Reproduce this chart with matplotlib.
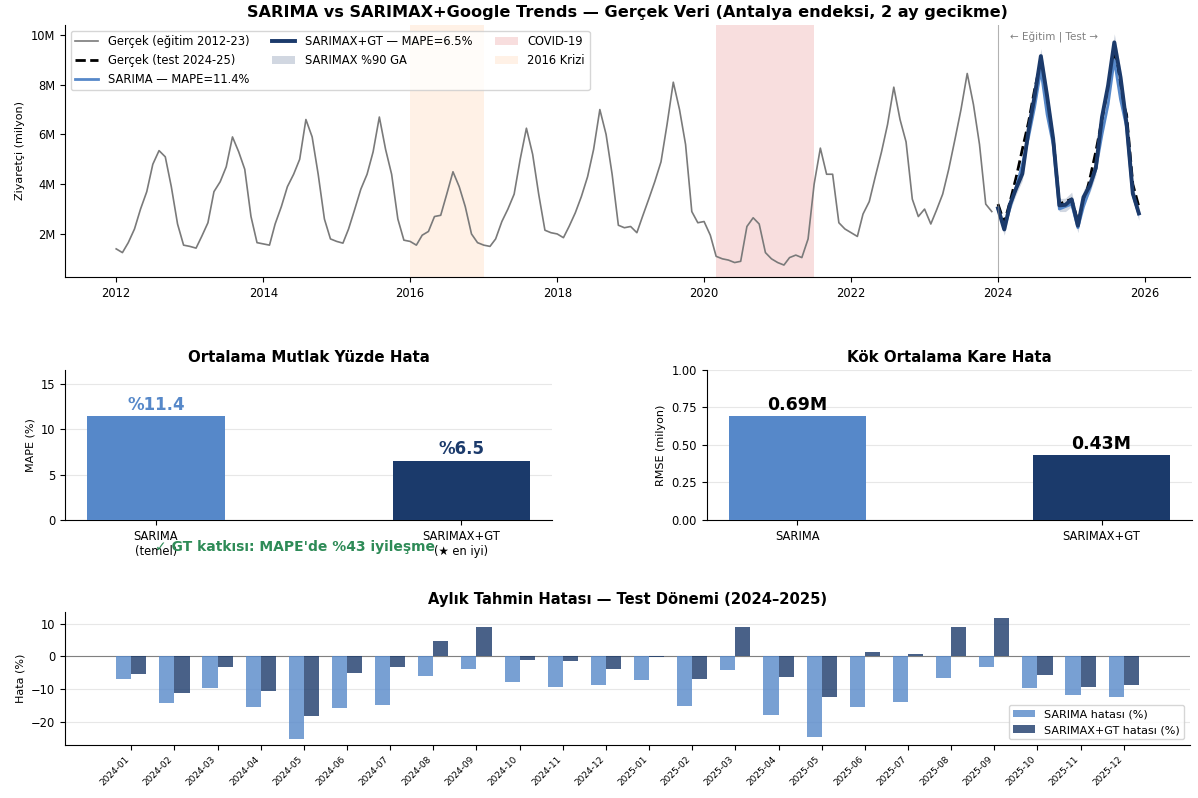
import numpy as np
import pandas as pd
import matplotlib
matplotlib.use("Agg")
import matplotlib.pyplot as plt
import matplotlib.dates as mdates
from matplotlib.ticker import FuncFormatter

# === VERİ (milyon ziyaretçi) ===
egitim_2012 = [1.4, 1.25, 1.65, 2.2, 3.0, 3.7, 4.8, 5.35, 5.1, 3.9, 2.4, 1.55]
egitim_2013 = [1.5, 1.43, 1.9, 2.45, 3.7, 4.1, 4.7, 5.9, 5.3, 4.6, 2.7, 1.65]
egitim_2014 = [1.6, 1.55, 2.4, 3.1, 3.9, 4.4, 5.0, 6.6, 5.9, 4.4, 2.6, 1.8]
egitim_2015 = [1.7, 1.63, 2.2, 3.0, 3.8, 4.4, 5.3, 6.7, 5.4, 4.4, 2.6, 1.75]
egitim_2016 = [1.7, 1.55, 1.95, 2.1, 2.7, 2.75, 3.6, 4.5, 3.9, 3.1, 2.0, 1.65]
egitim_2017 = [1.55, 1.5, 1.8, 2.5, 3.0, 3.6, 5.0, 6.25, 5.2, 3.6, 2.15, 2.05]
egitim_2018 = [2.0, 1.85, 2.3, 2.85, 3.5, 4.3, 5.4, 7.0, 6.0, 4.4, 2.35, 2.25]
egitim_2019 = [2.3, 2.05, 2.7, 3.4, 4.1, 4.9, 6.4, 8.1, 7.0, 5.6, 2.9, 2.45]
egitim_2020 = [2.5, 1.95, 1.1, 1.0, 0.95, 0.85, 0.9, 2.3, 2.65, 2.4, 1.25, 1.0]
egitim_2021 = [0.85, 0.75, 1.05, 1.15, 1.05, 1.8, 4.0, 5.45, 4.4, 4.4, 2.45, 2.2]
egitim_2022 = [2.05, 1.9, 2.8, 3.3, 4.3, 5.3, 6.4, 7.9, 6.6, 5.7, 3.4, 2.7]
egitim_2023 = [3.0, 2.4, 2.95, 3.6, 4.6, 5.8, 7.0, 8.45, 7.2, 5.6, 3.2, 2.9]

test_gercek = [3.2, 2.45, 3.3, 4.3, 5.4, 6.5, 7.8, 8.95, 7.0, 5.9, 3.2, 3.3,
               3.4, 2.5, 3.2, 4.2, 5.3, 6.6, 7.9, 9.45, 7.6, 6.8, 4.0, 3.1]
sarima_tahmin = [3.0, 2.25, 3.05, 3.9, 4.8, 5.9, 7.1, 8.6, 6.8, 5.6, 3.0, 3.1,
                 3.2, 2.25, 3.1, 3.8, 4.6, 6.0, 7.2, 9.0, 7.4, 6.3, 3.6, 2.8]
sarimax_tahmin = [3.03, 2.18, 3.20, 3.85, 4.42, 6.18, 7.54, 9.15, 7.55, 5.83, 3.15, 3.17,
                  3.39, 2.33, 3.48, 3.94, 4.65, 6.70, 7.96, 9.70, 8.30, 6.42, 3.63, 2.83]
ga_alt = [2.80, 1.95, 2.95, 3.60, 4.15, 5.90, 7.25, 8.85, 7.25, 5.55, 2.90, 2.90,
          3.10, 2.05, 3.20, 3.65, 4.35, 6.40, 7.65, 9.35, 7.95, 6.10, 3.35, 2.55]
ga_ust = [3.28, 2.42, 3.46, 4.12, 4.70, 6.48, 7.84, 9.45, 7.86, 6.12, 3.42, 3.44,
          3.68, 2.60, 3.76, 4.24, 4.96, 7.00, 8.28, 10.05, 8.65, 6.74, 3.92, 3.12]

modeller = ["SARIMA", "SARIMAX+GT"]
mape = [11.4, 6.5]
rmse = [0.69, 0.43]

sarima_hata = [-6.9, -14.1, -9.7, -15.5, -25.1, -15.7, -14.9, -5.9, -3.7, -7.7, -9.2, -8.6,
               -7.3, -15.0, -4.1, -17.9, -24.5, -15.3, -14.0, -6.6, -3.3, -9.7, -11.7, -12.2]
sarimax_hata = [-5.4, -11.0, -3.1, -10.4, -18.2, -4.9, -3.3, 4.8, 8.9, -1.2, -1.5, -3.85,
                -0.3, -6.9, 8.9, -6.1, -12.2, 1.5, 0.8, 9.0, 11.7, -5.6, -9.2, -8.7]

# === RENKLER ===
C_SARIMA = "#5688C9"
C_GT = "#1B3A6B"

egitim = (egitim_2012 + egitim_2013 + egitim_2014 + egitim_2015 + egitim_2016 + egitim_2017
          + egitim_2018 + egitim_2019 + egitim_2020 + egitim_2021 + egitim_2022 + egitim_2023)
tarih_egitim = pd.date_range("2012-01-01", periods=len(egitim), freq="MS")
tarih_test = pd.date_range("2024-01-01", periods=len(test_gercek), freq="MS")
ay_etiket = [d.strftime("%Y-%m") for d in tarih_test]

fig = plt.figure(figsize=(11.98, 7.98), dpi=100)
ax1 = fig.add_axes([0.0543, 0.6529, 0.939, 0.3158])
ax2 = fig.add_axes([0.0543, 0.3484, 0.4065, 0.188])
ax3 = fig.add_axes([0.590, 0.3484, 0.405, 0.188])
ax4 = fig.add_axes([0.0543, 0.0664, 0.939, 0.1667])

# --- Üst grafik: zaman serisi ---
ax1.plot(tarih_egitim, egitim, color="#7a7a7a", lw=1.2, label="Gerçek (eğitim 2012-23)")
ax1.plot(tarih_test, test_gercek, color="black", lw=2, ls="--", label="Gerçek (test 2024-25)")
ax1.plot(tarih_test, sarima_tahmin, color=C_SARIMA, lw=2, label="SARIMA — MAPE=11.4%")
ax1.plot(tarih_test, sarimax_tahmin, color=C_GT, lw=2.8, label="SARIMAX+GT — MAPE=6.5%")
ax1.fill_between(tarih_test, ga_alt, ga_ust, color=C_GT, alpha=0.2, lw=0, label="SARIMAX %90 GA")
ax1.axvspan(pd.Timestamp("2020-03-01"), pd.Timestamp("2021-07-01"), color="#d62728", alpha=0.15, lw=0, label="COVID-19")
ax1.axvspan(pd.Timestamp("2016-01-01"), pd.Timestamp("2017-01-01"), color="#ff7f0e", alpha=0.1, lw=0, label="2016 Krizi")
ax1.axvline(pd.Timestamp("2024-01-01"), color="grey", lw=0.8, alpha=0.6)
ax1.text(pd.Timestamp("2024-03-01"), 9.9, "← Eğitim | Test →", fontsize=7.5, color="grey", va="center")
ax1.set_ylim(0.27, 10.4)
ax1.yaxis.set_major_formatter(FuncFormatter(lambda v, p: f"{v:.0f}M"))
ax1.set_yticks([2, 4, 6, 8, 10])
ax1.xaxis.set_major_locator(mdates.YearLocator(2))
ax1.xaxis.set_major_formatter(mdates.DateFormatter("%Y"))
ax1.set_ylabel("Ziyaretçi (milyon)", fontsize=8)
ax1.set_title("SARIMA vs SARIMAX+Google Trends — Gerçek Veri (Antalya endeksi, 2 ay gecikme)",
              fontsize=11.6, fontweight="bold", pad=6)
ax1.legend(loc="upper left", ncol=3, fontsize=8.3, framealpha=0.8)
ax1.tick_params(labelsize=8.3)

# --- MAPE ---
x = np.arange(len(modeller))
ax2.bar(x, mape, width=0.45, color=[C_SARIMA, C_GT], zorder=3)
for xi, v, c in zip(x, mape, [C_SARIMA, C_GT]):
    ax2.text(xi, v + 0.3, f"%{v}", ha="center", va="bottom", fontsize=12, fontweight="bold", color=c)
ax2.set_xticks(x)
ax2.set_xticklabels(["SARIMA\n(temel)", "SARIMAX+GT\n(★ en iyi)"], fontsize=8.3)
ax2.set_ylim(0, 16.5)
ax2.set_yticks([0, 5, 10, 15])
ax2.set_ylabel("MAPE (%)", fontsize=8)
ax2.set_title("Ortalama Mutlak Yüzde Hata", fontsize=10.8, fontweight="bold")
ax2.grid(axis="y", alpha=0.3)
ax2.tick_params(labelsize=8.3)
fig.text(0.246, 0.3145, "✓ GT katkısı: MAPE'de %43 iyileşme", ha="center", va="center",
         fontsize=10, fontweight="bold", color="#2e8b57")

# --- RMSE ---
ax3.bar(x, rmse, width=0.45, color=[C_SARIMA, C_GT], zorder=3)
for xi, v in zip(x, rmse):
    ax3.text(xi, v + 0.015, f"{v:.2f}M", ha="center", va="bottom", fontsize=12.5, fontweight="bold")
ax3.set_xticks(x)
ax3.set_xticklabels(modeller, fontsize=8.3)
ax3.set_ylim(0, 1.0)
ax3.set_yticks([0, 0.25, 0.5, 0.75, 1.0])
ax3.yaxis.set_major_formatter(FuncFormatter(lambda v, p: f"{v:.2f}"))
ax3.set_ylabel("RMSE (milyon)", fontsize=8)
ax3.set_title("Kök Ortalama Kare Hata", fontsize=10.8, fontweight="bold")
ax3.grid(axis="y", alpha=0.3)
ax3.tick_params(labelsize=8.3)

# --- Aylık hata ---
xm = np.arange(len(ay_etiket))
ax4.bar(xm - 0.175, sarima_hata, width=0.35, color=C_SARIMA, alpha=0.8, label="SARIMA hatası (%)", zorder=3)
ax4.bar(xm + 0.175, sarimax_hata, width=0.35, color=C_GT, alpha=0.8, label="SARIMAX+GT hatası (%)", zorder=3)
ax4.axhline(0, color="grey", lw=0.8)
ax4.set_xticks(xm)
ax4.set_xticklabels(ay_etiket, rotation=45, ha="right", fontsize=6.5)
ax4.set_yticks([-20, -10, 0, 10])
ax4.set_ylabel("Hata (%)", fontsize=8)
ax4.set_title("Aylık Tahmin Hatası — Test Dönemi (2024–2025)", fontsize=10.6, fontweight="bold")
ax4.grid(axis="y", alpha=0.3)
ax4.legend(loc="lower right", fontsize=8)
ax4.tick_params(axis="y", labelsize=8.3)

for ax in [ax1, ax2, ax3, ax4]:
    ax.spines["top"].set_visible(False)
    ax.spines["right"].set_visible(False)

fig.savefig("out.png", dpi=100)
